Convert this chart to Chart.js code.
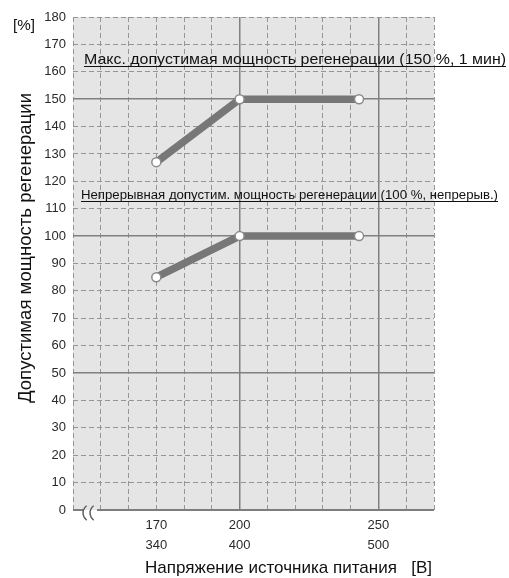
<!DOCTYPE html>
<html>
<head>
<meta charset="utf-8">
<script src="https://cdn.jsdelivr.net/npm/chart.js@4.4.1/dist/chart.umd.min.js"></script>
<style>
  html, body { margin: 0; padding: 0; background: #fff; }
  #wrap { width: 509px; height: 578px; position: relative; }
</style>
</head>
<body>
<div id="wrap"><canvas id="chart" width="509" height="578"></canvas></div>
<script>
// ── data ──
const voltage = [170, 200, 243];
const maxRegen = [127, 150, 150];   // 150 %, 1 min
const contRegen = [85, 100, 100];   // 100 %, continuous
const xTickLabels = { 170: ["170", "340"], 200: ["200", "400"], 250: ["250", "500"] };
const solidX = [200, 250];
const solidY = [50, 100, 150];

const FONT = "'Liberation Sans', Arial, sans-serif";

const toPoints = (xs, ys) => xs.map((x, i) => ({ x, y: ys[i] }));

const lineStyle = {
  borderColor: "#777",
  borderWidth: 7.5,
  pointRadius: 4.5,
  pointBackgroundColor: "#fff",
  pointBorderColor: "#8a8a8a",
  pointBorderWidth: 1.5,
  tension: 0,
  fill: false,
};

// draw text stretched/squeezed to an exact width
function fitText(ctx, text, x, y, width, font) {
  ctx.font = font;
  const w = ctx.measureText(text).width;
  ctx.save();
  ctx.translate(x, y);
  ctx.scale(width / w, 1);
  ctx.fillText(text, 0, 0);
  ctx.restore();
}

const decor = {
  id: "decor",
  beforeDraw(chart) {
    const { ctx, chartArea: a } = chart;
    ctx.save();
    ctx.fillStyle = "#e5e5e5";
    ctx.fillRect(a.left, a.top, a.right - a.left, a.bottom - a.top);
    ctx.restore();
  },
  afterDraw(chart) {
    const { ctx, chartArea: a } = chart;
    ctx.save();
    // bottom axis with break mark
    ctx.strokeStyle = "#7d7d7d";
    ctx.lineWidth = 2;
    ctx.beginPath();
    ctx.moveTo(a.left, a.bottom);
    ctx.lineTo(a.left + 11, a.bottom);
    ctx.moveTo(a.left + 24, a.bottom);
    ctx.lineTo(a.right, a.bottom);
    ctx.stroke();
    ctx.strokeStyle = "#5a5a5a";
    ctx.lineWidth = 1.4;
    [a.left + 19, a.left + 26].forEach((cx) => {
      ctx.beginPath();
      ctx.arc(cx, a.bottom + 3, 9, Math.PI * 0.7, Math.PI * 1.3);
      ctx.stroke();
    });

    ctx.fillStyle = "#111";
    ctx.textAlign = "left";
    ctx.textBaseline = "alphabetic";
    fitText(ctx, "[%]", 13, 30, 22, "15px " + FONT);

    // annotations
    const notes = [
      { t: "Макс. допустимая мощность регенерации (150 %, 1 мин)", x: 84, y: 64, w: 422, f: "15px " + FONT },
      { t: "Непрерывная допустим. мощность регенерации (100 %, непрерыв.)", x: 81, y: 199, w: 417, f: "12.5px " + FONT },
    ];
    notes.forEach((n) => {
      fitText(ctx, n.t, n.x, n.y, n.w, n.f);
      ctx.strokeStyle = "#111";
      ctx.lineWidth = 1;
      ctx.beginPath();
      ctx.moveTo(n.x, n.y + 2.5);
      ctx.lineTo(n.x + n.w, n.y + 2.5);
      ctx.stroke();
    });

    // axis titles
    fitText(ctx, "Напряжение источника питания   [В]", 145, 573, 287, "17px " + FONT);
    ctx.save();
    ctx.translate(31, 403);
    ctx.rotate(-Math.PI / 2);
    fitText(ctx, "Допустимая мощность регенерации", 0, 0, 310, "17.5px " + FONT);
    ctx.restore();
    ctx.restore();
  },
};

const isSolid = (list) => (c) => c.tick && list.includes(c.tick.value);

new Chart(document.getElementById("chart"), {
  type: "line",
  data: {
    datasets: [
      { label: "max", data: toPoints(voltage, maxRegen), ...lineStyle },
      { label: "cont", data: toPoints(voltage, contRegen), ...lineStyle },
    ],
  },
  options: {
    responsive: false,
    animation: false,
    layout: { padding: { left: 0, top: 17, right: 75, bottom: 0 } },
    plugins: { legend: { display: false }, tooltip: { enabled: false } },
    scales: {
      x: {
        type: "linear",
        min: 140,
        max: 270,
        afterFit: (s) => { s.height = 68; },
        afterBuildTicks: (s) => {
          s.ticks = [];
          for (let v = 140; v <= 270; v += 10) s.ticks.push({ value: v });
        },
        grid: {
          drawTicks: false,
          color: (c) => (isSolid(solidX)(c) ? "#808080" : "#959595"),
          lineWidth: (c) => (isSolid(solidX)(c) ? 1.5 : 1),
        },
        border: {
          display: false,
          dash: (c) => (isSolid(solidX)(c) ? [] : [5, 3]),
        },
        ticks: {
          autoSkip: false,
          maxRotation: 0,
          padding: 5,
          color: "#2a2a2a",
          font: { family: FONT, size: 13, lineHeight: 1.55 },
          callback: (v) => xTickLabels[v] || "",
        },
      },
      y: {
        min: 0,
        max: 180,
        afterFit: (s) => { s.width = 73; },
        grid: {
          drawTicks: false,
          color: (c) => {
            if (c.tick && c.tick.value === 0) return "rgba(0,0,0,0)";
            return isSolid(solidY)(c) ? "#808080" : "#959595";
          },
          lineWidth: (c) => (isSolid(solidY)(c) ? 1.5 : 1),
        },
        border: {
          display: false,
          dash: (c) => (isSolid(solidY)(c) ? [] : [5, 3]),
        },
        ticks: {
          stepSize: 10,
          padding: 7,
          color: "#2a2a2a",
          font: { family: FONT, size: 13 },
        },
      },
    },
  },
  plugins: [decor],
});
</script>
</body>
</html>
